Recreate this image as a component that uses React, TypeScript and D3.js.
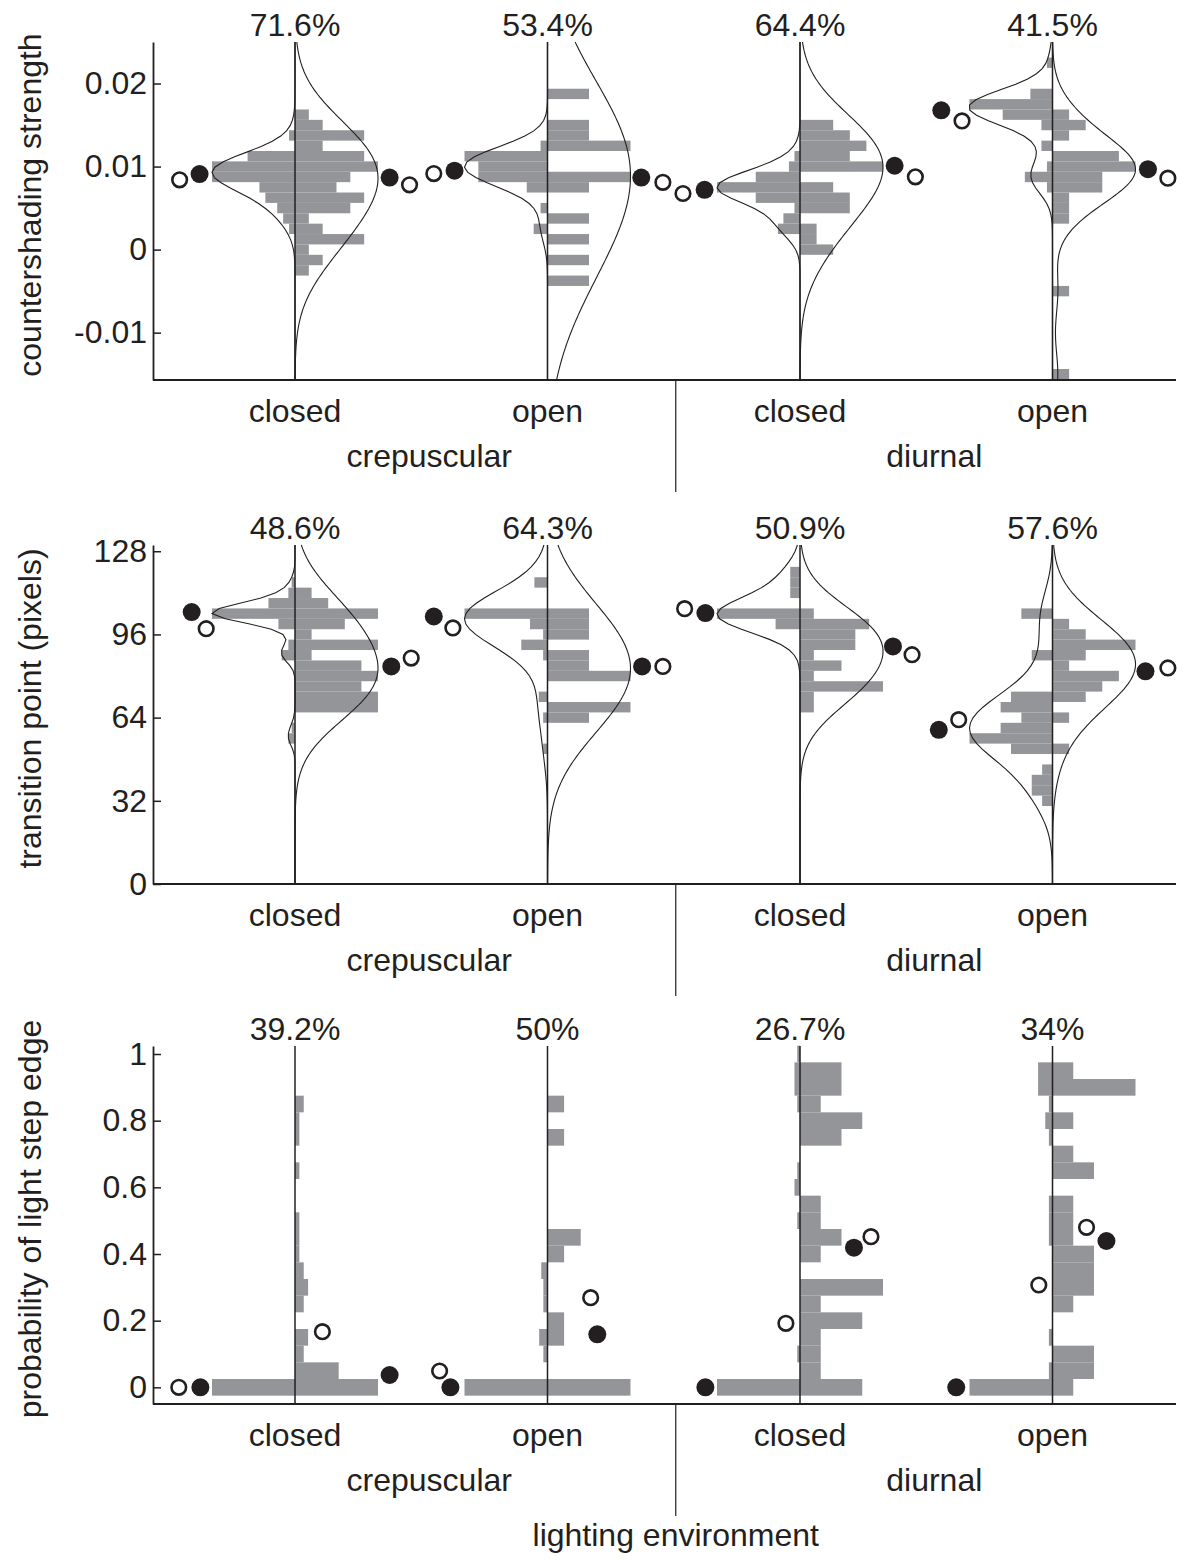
import { useEffect, useRef } from "react";
import * as d3 from "d3";

// ---- shared categories ----
const habitats = ["closed", "open", "closed", "open"];
const lighting = ["crepuscular", "diurnal"];
const xTitle = "lighting environment";

// ---- countershading strength (bins of 0.00125, [bin, count]) ----
const csTitle = "countershading strength";
const csBinWidth = 0.00125;
const csTicks = [0.02, 0.01, 0, -0.01];
const csPercent = ["71.6%", "53.4%", "64.4%", "41.5%"];
const csLeft = [
  [[11, 1], [9, 8], [8, 14], [7, 14], [6, 6], [5, 5], [4, 3], [3, 2], [2, 1]],
  [[10, 1], [9, 12], [8, 10], [7, 10], [6, 3], [4, 1], [2, 2]],
  [[9, 1], [8, 2], [7, 8], [6, 15], [5, 8], [4, 1], [3, 3], [2, 4]],
  [[18, 1], [15, 4], [14, 15], [13, 9], [12, 2], [10, 2], [8, 1], [7, 5], [6, 1]],
];
const csRight = [
  [[13, 1], [12, 2], [11, 5], [10, 2], [9, 5], [8, 6], [7, 4], [6, 3], [5, 5], [4, 4], [3, 1], [2, 2], [1, 5], [0, 1], [-1, 2], [-2, 1]],
  [[15, 1], [12, 1], [11, 1], [10, 2], [7, 2], [6, 1], [3, 1], [1, 1], [-1, 1], [-3, 1]],
  [[12, 2], [11, 3], [10, 4], [9, 3], [8, 5], [6, 2], [5, 3], [4, 3], [2, 1], [1, 1], [0, 2]],
  [[13, 1], [12, 2], [11, 1], [9, 4], [8, 5], [7, 3], [6, 3], [5, 1], [4, 1], [3, 1], [-4, 1], [-12, 1]],
];
// [group, side position, value]
const csFilled = [[0, -1.15, 0.0091], [0, 1.14, 0.00868], [1, -1.12, 0.0095], [1, 1.13, 0.00868], [2, -1.15, 0.0072], [2, 1.14, 0.0101], [3, -1.34, 0.01677], [3, 1.15, 0.00969]];
const csOpen = [[0, -1.39, 0.0084], [0, 1.38, 0.0078], [1, -1.37, 0.00916], [1, 1.39, 0.0081], [2, -1.41, 0.00676], [2, 1.39, 0.00876], [3, -1.09, 0.0155], [3, 1.39, 0.0086]];

// ---- transition point (bins of 4 px) ----
const tpTitle = "transition point (pixels)";
const tpBinWidth = 4;
const tpTicks = [128, 96, 64, 32, 0];
const tpPercent = ["48.6%", "64.3%", "50.9%", "57.6%"];
const tpLeft = [
  [[29, 1], [28, 2], [27, 8], [26, 25], [25, 5], [23, 2], [22, 4], [15, 1], [14, 2]],
  [[29, 3], [26, 19], [25, 4], [24, 1], [23, 6], [22, 1], [18, 2], [16, 1], [13, 1]],
  [[30, 2], [29, 2], [28, 2], [26, 17], [25, 5]],
  [[26, 3], [22, 2], [18, 4], [17, 5], [16, 3], [15, 5], [14, 8], [13, 4], [11, 1], [10, 2], [9, 2], [8, 1]],
];
const tpRight = [
  [[28, 1], [27, 2], [26, 5], [25, 3], [24, 1], [23, 5], [22, 1], [21, 4], [20, 5], [19, 4], [18, 5], [17, 5]],
  [[26, 1], [25, 1], [24, 1], [22, 1], [21, 1], [20, 2], [17, 2], [16, 1]],
  [[26, 1], [25, 5], [24, 4], [23, 4], [22, 1], [21, 3], [20, 1], [19, 6], [18, 1], [17, 1]],
  [[25, 1], [24, 2], [23, 5], [22, 2], [21, 1], [20, 4], [19, 3], [18, 2], [16, 1], [13, 1]],
];
const tpFilled = [[0, -1.245, 104.6], [0, 1.16, 83.7], [1, -1.37, 102.9], [1, 1.14, 83.7], [2, -1.14, 104.2], [2, 1.12, 91.4], [3, -1.37, 59.3], [3, 1.12, 81.8]];
const tpOpen = [[0, -1.07, 98.2], [0, 1.4, 86.9], [1, -1.14, 98.5], [1, 1.39, 83.7], [2, -1.39, 105.9], [2, 1.35, 88.2], [3, -1.13, 63.2], [3, 1.39, 83.1]];

// ---- probability of light step edge (bins of 0.05) ----
const lsTitle = "probability of light step edge";
const lsBinWidth = 0.05;
const lsTicks = [1, 0.8, 0.6, 0.4, 0.2, 0];
const lsPercent = ["39.2%", "50%", "26.7%", "34%"];
const lsLeft = [
  [[0, 1]],
  [[7, 3], [6, 2], [5, 2], [3, 4], [2, 2], [0, 40]],
  [[20, 1], [19, 2], [18, 2], [17, 1], [13, 1], [12, 2], [10, 1], [2, 1], [0, 30]],
  [[19, 4], [18, 4], [17, 1], [16, 2], [15, 1], [11, 1], [10, 1], [9, 1], [3, 1], [1, 1], [0, 23]],
];
const lsRight = [
  [[17, 2], [16, 1], [15, 1], [13, 1], [10, 1], [9, 1], [8, 1], [7, 2], [6, 3], [5, 2], [3, 3], [2, 2], [1, 10], [0, 19]],
  [[17, 1], [15, 1], [9, 2], [8, 1], [4, 1], [3, 1], [0, 5]],
  [[19, 2], [18, 2], [17, 1], [16, 3], [15, 2], [11, 1], [10, 1], [9, 2], [8, 1], [6, 4], [5, 1], [4, 3], [3, 1], [2, 1], [1, 1], [0, 3]],
  [[19, 1], [18, 4], [16, 1], [14, 1], [13, 2], [11, 1], [10, 1], [9, 1], [8, 2], [7, 2], [6, 2], [5, 1], [2, 2], [1, 2], [0, 1]],
];
const lsFilled = [[0, -1.14, 0], [0, 1.14, 0.037], [1, -1.17, 0], [1, 0.6, 0.159], [2, -1.14, 0], [2, 0.65, 0.419], [3, -1.16, 0], [3, 0.65, 0.439]];
const lsOpen = [[0, -1.4, 0], [0, 0.33, 0.167], [1, -1.3, 0.049], [1, 0.52, 0.269], [2, -0.17, 0.192], [2, 0.855, 0.452], [3, -0.165, 0.307], [3, 0.41, 0.48]];

const INK = "#231f20";
const BAR = "#939598";
const FONT = "'Liberation Sans', Arial, Helvetica, sans-serif";
const FONT_SIZE = 32;
const HALF = 83; // widest bin / density peak
const AXIS_LEFT = 153;
const AXIS_RIGHT = 1176;

const panels = [
  { title: csTitle, binWidth: csBinWidth, ticks: csTicks, percent: csPercent, left: csLeft, right: csRight, filled: csFilled, open: csOpen, domain: [-0.0157, 0.025], top: 42, bottom: 380, curves: true },
  { title: tpTitle, binWidth: tpBinWidth, ticks: tpTicks, percent: tpPercent, left: tpLeft, right: tpRight, filled: tpFilled, open: tpOpen, domain: [0, 130.4], top: 545, bottom: 884, curves: true },
  { title: lsTitle, binWidth: lsBinWidth, ticks: lsTicks, percent: lsPercent, left: lsLeft, right: lsRight, filled: lsFilled, open: lsOpen, domain: [-0.05, 1.024], top: 1046, bottom: 1404, curves: false },
];

// rule-of-thumb kernel width (in bins), widened by a factor
const bandwidth = (bins, factor) => {
  const xs = bins.flatMap(([k, c]) => d3.range(c).map(() => k));
  const sd = d3.deviation(xs) || 1;
  const iqr = d3.quantile(xs, 0.75) - d3.quantile(xs, 0.25);
  const spread = iqr > 0 ? Math.min(sd, iqr / 1.34) : sd;
  return Math.max(0.8, factor * 1.06 * spread * Math.pow(xs.length, -0.2));
};

// gaussian kernel density of binned counts
const density = (bins, binWidth, bwBins, values) => {
  const h = bwBins * binWidth;
  return values.map((v) => ({
    v,
    d: d3.sum(bins, ([k, c]) => c * Math.exp(-0.5 * ((v - k * binWidth) / h) ** 2)),
  }));
};

const App = () => {
  const svgRef = useRef(null);

  useEffect(() => {
    const svg = d3.select(svgRef.current);
    svg.selectAll("*").remove();

    const x = d3.scalePoint().domain(d3.range(habitats.length)).range([295, 1052.5]);
    const sepX = (x(1) + x(2)) / 2 + 2;

    panels.forEach((p) => {
      const y = d3.scaleLinear().domain(p.domain).range([p.bottom, p.top]);
      const g = svg.append("g");

      // histograms
      [p.left, p.right].forEach((sides, s) => {
        const dir = s === 0 ? -1 : 1;
        sides.forEach((bins, gi) => {
          const w = d3.scaleLinear().domain([0, d3.max(bins, (b) => b[1])]).range([0, HALF]);
          g.append("g")
            .selectAll("rect")
            .data(bins)
            .join("rect")
            .attr("x", (b) => (dir < 0 ? x(gi) - w(b[1]) : x(gi)))
            .attr("width", (b) => w(b[1]))
            .attr("y", (b) => y((b[0] + 0.5) * p.binWidth))
            .attr("height", (b) => y((b[0] - 0.5) * p.binWidth) - y((b[0] + 0.5) * p.binWidth))
            .attr("fill", BAR);
        });
      });

      // center lines
      g.append("g")
        .selectAll("line")
        .data(habitats.map((_, i) => i))
        .join("line")
        .attr("x1", (i) => x(i))
        .attr("x2", (i) => x(i))
        .attr("y1", p.top)
        .attr("y2", p.bottom)
        .attr("stroke", INK)
        .attr("stroke-width", 1.5);

      // density curves
      if (p.curves) {
        const [d0, d1] = p.domain;
        [p.left, p.right].forEach((sides, s) => {
          const dir = s === 0 ? -1 : 1;
          const step = s === 0 ? p.binWidth / 2 : p.binWidth / 4;
          const vals = d3.range(d0, d1, step).concat([d1]);
          sides.forEach((bins, gi) => {
            const bw = bandwidth(bins, s === 0 ? 2.0 : 2.0);
            const pts = density(bins, p.binWidth, bw, vals);
            const w = d3.scaleLinear().domain([0, d3.max(pts, (q) => q.d)]).range([0, HALF]);
            const line = d3
              .line()
              .x((q) => x(gi) + dir * w(q.d))
              .y((q) => y(q.v));
            g.append("path")
              .attr("d", line(pts))
              .attr("fill", "none")
              .attr("stroke", INK)
              .attr("stroke-width", 1.1);
          });
        });
      }

      // markers
      g.append("g")
        .selectAll("circle")
        .data(p.filled)
        .join("circle")
        .attr("cx", (m) => x(m[0]) + m[1] * HALF)
        .attr("cy", (m) => y(m[2]))
        .attr("r", 9)
        .attr("fill", INK);
      g.append("g")
        .selectAll("circle")
        .data(p.open)
        .join("circle")
        .attr("cx", (m) => x(m[0]) + m[1] * HALF)
        .attr("cy", (m) => y(m[2]))
        .attr("r", 7.3)
        .attr("fill", "#fff")
        .attr("stroke", INK)
        .attr("stroke-width", 2.6);

      // y axis, ticks pointing inward
      const axis = g
        .append("g")
        .attr("transform", `translate(${AXIS_LEFT},0)`)
        .call(
          d3.axisLeft(y).tickValues(p.ticks).tickSizeInner(-8).tickSizeOuter(0).tickPadding(6).tickFormat((d) => String(d))
        );
      axis.select(".domain").attr("stroke", INK).attr("stroke-width", 1.8);
      axis.selectAll(".tick line").attr("stroke", INK).attr("stroke-width", 1.5);
      axis.selectAll(".tick text").attr("font-family", FONT).attr("font-size", FONT_SIZE).attr("fill", INK);

      // bottom axis line
      g.append("line")
        .attr("x1", AXIS_LEFT)
        .attr("x2", AXIS_RIGHT)
        .attr("y1", p.bottom)
        .attr("y2", p.bottom)
        .attr("stroke", INK)
        .attr("stroke-width", 1.8);

      // lighting separator
      g.append("line")
        .attr("x1", sepX)
        .attr("x2", sepX)
        .attr("y1", p.bottom)
        .attr("y2", p.bottom + 112)
        .attr("stroke", INK)
        .attr("stroke-width", 1.2);

      const text = (tx, ty, str) =>
        g.append("text")
          .attr("x", tx)
          .attr("y", ty)
          .attr("text-anchor", "middle")
          .attr("font-family", FONT)
          .attr("font-size", FONT_SIZE)
          .attr("fill", INK)
          .text(str);

      habitats.forEach((h, i) => {
        text(x(i), p.bottom + 42, h);
        text(x(i), p.top - 6, p.percent[i]);
      });
      lighting.forEach((l, i) => {
        text((x(i * 2) + x(i * 2 + 1)) / 2 + 8, p.bottom + 87, l);
      });

      g.append("text")
        .attr("transform", `translate(41,${(p.top + p.bottom) / 2 - 6}) rotate(-90)`)
        .attr("text-anchor", "middle")
        .attr("font-family", FONT)
        .attr("font-size", FONT_SIZE)
        .attr("fill", INK)
        .text(p.title);
    });

    svg.append("text")
      .attr("x", sepX)
      .attr("y", panels[2].bottom + 142)
      .attr("text-anchor", "middle")
      .attr("font-family", FONT)
      .attr("font-size", FONT_SIZE)
      .attr("fill", INK)
      .text(xTitle);
  }, []);

  return (
    <svg
      ref={svgRef}
      width={1189}
      height={1561}
      style={{ position: "absolute", left: 0, top: 0, background: "#fff" }}
    />
  );
};

export default App;
